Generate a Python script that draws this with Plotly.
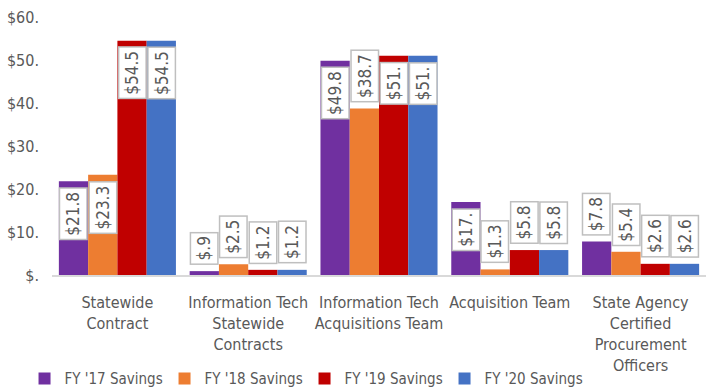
import plotly.graph_objects as go

# Savings by program, in millions of dollars
categories = [
    "Statewide<br>Contract",
    "Information Tech<br>Statewide<br>Contracts",
    "Information Tech<br>Acquisitions Team",
    "Acquisition Team",
    "State Agency<br>Certified<br>Procurement<br>Officers",
]
series_names = ["FY '17 Savings", "FY '18 Savings", "FY '19 Savings", "FY '20 Savings"]
fy17 = [21.8, 0.9, 49.8, 17.0, 7.8]
fy18 = [23.3, 2.5, 38.7, 1.3, 5.4]
fy19 = [54.5, 1.2, 51.0, 5.8, 2.6]
fy20 = [54.5, 1.2, 51.0, 5.8, 2.6]
y_ticks = [0, 10, 20, 30, 40, 50, 60]

series = [fy17, fy18, fy19, fy20]
colors = ["#7030A0", "#ED7D31", "#C00000", "#4472C4"]

FONT = "DejaVu Sans Condensed, DejaVu Sans, sans-serif"
GRAY = "#595959"


def money(v):
    """Currency label without a leading zero: 54.5 -> $54.5, 0.9 -> $.9, 17.0 -> $17."""
    whole = int(round(v * 10)) // 10
    tenth = int(round(v * 10)) % 10
    return "$" + (str(whole) if whole else "") + "." + (str(tenth) if tenth else "")


x_idx = list(range(len(categories)))
bargap = 0.105
bar_w = (1 - bargap) / len(series)

fig = go.Figure()
for name, vals, col in zip(series_names, series, colors):
    fig.add_trace(go.Bar(
        x=x_idx, y=vals, name=name,
        marker=dict(color=col, line=dict(width=0)),
    ))

# Boxed, rotated value labels; tall bars hold the label inside the top end,
# short bars carry it just above.
outside_override = {(2, 1)}
annotations = []
for s, vals in enumerate(series):
    offset = (s - (len(series) - 1) / 2) * bar_w
    for i, v in enumerate(vals):
        inside = v >= 15 and (i, s) not in outside_override
        annotations.append(dict(
            x=i + offset, y=v, xref="x", yref="y",
            text=money(v), showarrow=False, textangle=-90,
            font=dict(family=FONT, size=17, color=GRAY),
            bgcolor="white", bordercolor="#BFBFBF", borderwidth=1.5, borderpad=3,
            xanchor="center",
            yanchor="top" if inside else "bottom",
            yshift=-6 if inside else 6,
        ))

fig.update_layout(
    width=709, height=391,
    margin=dict(l=52, r=3, t=17, b=116, autoexpand=False),
    paper_bgcolor="white", plot_bgcolor="white",
    barmode="group", bargap=bargap, bargroupgap=0,
    font=dict(family=FONT, size=16, color=GRAY),
    showlegend=True,
    legend=dict(
        orientation="h", x=-0.042, xanchor="left", y=-0.338, yanchor="top",
        entrywidth=95, entrywidthmode="pixels",
        font=dict(family=FONT, size=15, color=GRAY),
        itemwidth=30, tracegroupgap=0,
    ),
    annotations=annotations,
)
fig.update_xaxes(
    tickmode="array", tickvals=x_idx, ticktext=categories, tickangle=0,
    range=[-0.5, len(categories) - 0.5], automargin=False,
    showline=True, linecolor="#D9D9D9", linewidth=2,
    ticks="", showgrid=False, zeroline=False,
    tickfont=dict(family=FONT, size=16, color=GRAY),
    ticklabelstandoff=12,
)
fig.update_yaxes(
    range=[0, 60], tickmode="array", tickvals=y_ticks,
    ticktext=[money(t) for t in y_ticks], automargin=False,
    showgrid=False, zeroline=False, showline=False, ticks="",
    tickfont=dict(family=FONT, size=16, color=GRAY),
    ticklabelstandoff=12,
)

fig.write_html("out.html")
